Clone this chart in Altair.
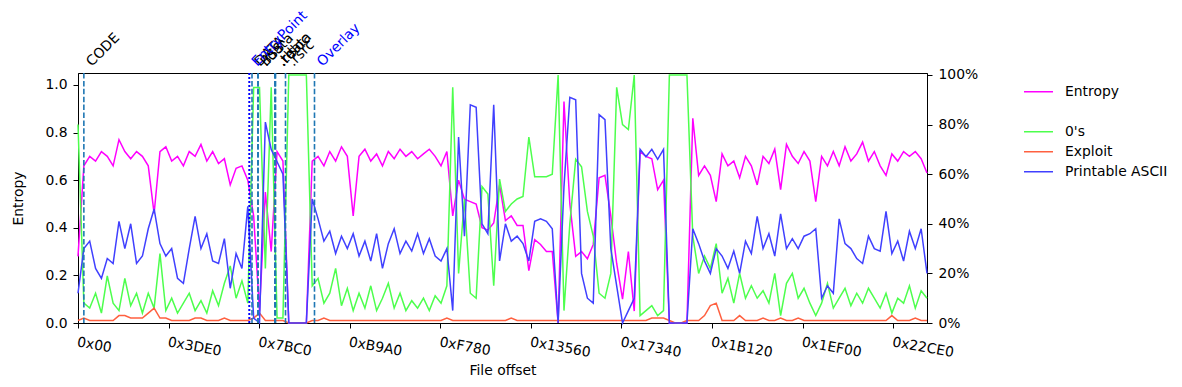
import altair as alt
import pandas as pd

STEP = 1024  # bytes per sample
X_MAX = 148480

ENTROPY = [0.28, 0.66, 0.70, 0.68, 0.72, 0.70, 0.66, 0.77, 0.72, 0.69,
           0.72, 0.70, 0.66, 0.46, 0.72, 0.74, 0.68, 0.70, 0.66, 0.72,
           0.70, 0.75, 0.68, 0.72, 0.67, 0.69, 0.58, 0.65, 0.66, 0.60,
           0.45, 0.05, 0.55, 0.30, 0.72, 0.68, 0.0, 0.0, 0.0, 0.0,
           0.68, 0.70, 0.66, 0.72, 0.68, 0.74, 0.70, 0.45, 0.70, 0.73,
           0.68, 0.71, 0.66, 0.72, 0.69, 0.73, 0.70, 0.72, 0.69, 0.71,
           0.73, 0.70, 0.66, 0.72, 0.45, 0.60, 0.52, 0.51, 0.50, 0.40,
           0.39, 0.42, 0.58, 0.43, 0.45, 0.41, 0.41, 0.22, 0.35, 0.33,
           0.30, 0.30, 0.0, 0.93, 0.50, 0.28, 0.30, 0.27, 0.33, 0.61,
           0.62, 0.45, 0.25, 0.10, 0.30, 0.05, 0.72, 0.70, 0.69, 0.56,
           0.60, 0.0, 0.0, 0.0, 0.0, 0.86, 0.62, 0.66, 0.62, 0.51,
           0.71, 0.66, 0.68, 0.61, 0.70, 0.66, 0.58, 0.70, 0.67, 0.73,
           0.56, 0.75, 0.70, 0.67, 0.72, 0.68, 0.51, 0.70, 0.66, 0.72,
           0.66, 0.74, 0.68, 0.71, 0.76, 0.68, 0.72, 0.66, 0.62, 0.71,
           0.68, 0.72, 0.70, 0.72, 0.69, 0.63]

ZEROS = [0.80, 0.08, 0.06, 0.12, 0.04, 0.19, 0.08, 0.05, 0.18, 0.07,
         0.12, 0.04, 0.12, 0.06, 0.28, 0.05, 0.10, 0.04, 0.08, 0.12,
         0.05, 0.09, 0.04, 0.13, 0.07, 0.16, 0.23, 0.10, 0.17, 0.08,
         0.95, 0.95, 0.22, 0.95, 0.02, 0.02, 1.0, 1.0, 1.0, 1.0,
         0.15, 0.18, 0.08, 0.12, 0.22, 0.07, 0.14, 0.05, 0.12, 0.06,
         0.15, 0.05, 0.10, 0.16, 0.06, 0.12, 0.05, 0.09, 0.06, 0.10,
         0.05, 0.11, 0.08, 0.15, 0.95, 0.20, 0.50, 0.12, 0.10, 0.55,
         0.52, 0.15, 0.58, 0.45, 0.48, 0.50, 0.51, 0.75, 0.59, 0.59,
         0.59, 0.60, 1.0, 0.05, 0.40, 0.66, 0.63, 0.45, 0.35, 0.12,
         0.10, 0.20, 0.95, 0.80, 0.78, 1.0, 0.03, 0.05, 0.07, 0.03,
         0.05, 1.0, 1.0, 1.0, 1.0, 0.35, 0.20, 0.27, 0.22, 0.32,
         0.12, 0.18, 0.08, 0.20, 0.10, 0.15, 0.10, 0.13, 0.08, 0.20,
         0.03, 0.16, 0.20, 0.10, 0.14, 0.08, 0.03, 0.08, 0.16, 0.06,
         0.10, 0.14, 0.07, 0.12, 0.08, 0.14, 0.10, 0.06, 0.12, 0.04,
         0.10, 0.08, 0.15, 0.06, 0.13, 0.10]

EXPLOIT = [0.01, 0.02, 0.01, 0.01, 0.01, 0.01, 0.01, 0.03, 0.03, 0.02,
           0.02, 0.02, 0.04, 0.06, 0.02, 0.02, 0.01, 0.01, 0.01, 0.01,
           0.02, 0.02, 0.01, 0.01, 0.01, 0.02, 0.01, 0.01, 0.01, 0.01,
           0.02, 0.04, 0.01, 0.01, 0.01, 0.01, 0.0, 0.0, 0.0, 0.0,
           0.01, 0.01, 0.02, 0.01, 0.01, 0.01, 0.01, 0.01, 0.01, 0.01,
           0.01, 0.01, 0.01, 0.01, 0.01, 0.01, 0.01, 0.01, 0.01, 0.01,
           0.01, 0.01, 0.01, 0.02, 0.01, 0.01, 0.01, 0.01, 0.01, 0.01,
           0.01, 0.01, 0.01, 0.01, 0.02, 0.01, 0.01, 0.01, 0.01, 0.01,
           0.01, 0.01, 0.01, 0.01, 0.01, 0.01, 0.01, 0.01, 0.01, 0.01,
           0.01, 0.01, 0.01, 0.01, 0.01, 0.01, 0.01, 0.01, 0.02, 0.02,
           0.02, 0.01, 0.0, 0.0, 0.01, 0.01, 0.01, 0.03, 0.07, 0.08,
           0.01, 0.01, 0.01, 0.03, 0.01, 0.01, 0.01, 0.02, 0.01, 0.01,
           0.02, 0.01, 0.01, 0.02, 0.01, 0.01, 0.01, 0.01, 0.01, 0.01,
           0.01, 0.01, 0.01, 0.01, 0.01, 0.01, 0.01, 0.01, 0.01, 0.03,
           0.01, 0.01, 0.01, 0.02, 0.01, 0.01]

ASCII = [0.12, 0.30, 0.33, 0.22, 0.18, 0.26, 0.24, 0.41, 0.30, 0.40,
         0.24, 0.27, 0.38, 0.46, 0.32, 0.27, 0.30, 0.18, 0.16, 0.30,
         0.43, 0.30, 0.36, 0.25, 0.24, 0.34, 0.14, 0.28, 0.22, 0.47,
         0.02, 0.0, 0.81, 0.70, 0.65, 0.60, 0.0, 0.0, 0.0, 0.0,
         0.50, 0.42, 0.33, 0.37, 0.28, 0.35, 0.30, 0.36, 0.27, 0.33,
         0.25, 0.36, 0.22, 0.32, 0.38, 0.28, 0.33, 0.29, 0.36, 0.28,
         0.34, 0.27, 0.25, 0.30, 0.05, 0.75, 0.35, 0.88, 0.87, 0.40,
         0.36, 0.88, 0.25, 0.40, 0.33, 0.35, 0.32, 0.25, 0.41, 0.42,
         0.41, 0.38, 0.0, 0.55, 0.91, 0.90, 0.20, 0.10, 0.08, 0.84,
         0.82, 0.30, 0.15, 0.0, 0.05, 0.10, 0.70, 0.67, 0.70, 0.66,
         0.70, 0.0, 0.0, 0.0, 0.0, 0.38, 0.32, 0.25, 0.20, 0.30,
         0.27, 0.22, 0.29, 0.20, 0.33, 0.28, 0.43, 0.30, 0.36, 0.27,
         0.44, 0.30, 0.34, 0.30, 0.35, 0.36, 0.38, 0.10, 0.15, 0.12,
         0.42, 0.32, 0.30, 0.26, 0.24, 0.35, 0.30, 0.29, 0.45, 0.28,
         0.33, 0.25, 0.37, 0.30, 0.38, 0.20]

X_TICKS = [0, 15840, 31680, 47520, 63360, 79200, 95040, 110880, 126720, 142560]

MARK_NAMES = ["CODE", "EntryPoint", "DATA", "BSS", ".idata", ".tls",
              ".rdata", ".reloc", ".rsrc", "Overlay"]
MARK_OFFSETS = [1024, 29960, 30430, 31480, 31480, 34450, 34450, 34550,
                36290, 41360]
MARK_KIND = ["section", "entry", "section", "section", "section", "section",
             "section", "section", "section", "overlay"]

SERIES = ["Entropy", " ", "0's", "Exploit", "Printable ASCII"]
COLORS = ["#ff00ff", "transparent", "#4dff4d", "#ff6040", "#4040ff"]

rows = []
for name, vals in [("Entropy", ENTROPY), ("0's", ZEROS),
                   ("Exploit", EXPLOIT), ("Printable ASCII", ASCII)]:
    for i, v in enumerate(vals):
        rows.append({"offset": i * STEP, "value": v, "series": name})
df = pd.DataFrame(rows)

marks = pd.DataFrame({"name": MARK_NAMES, "offset": MARK_OFFSETS,
                      "kind": MARK_KIND})

FONT = "DejaVu Sans"
FS = 13.9

x_enc = alt.X(
    "offset:Q",
    scale=alt.Scale(domain=[0, X_MAX], nice=False, zero=False),
    axis=alt.Axis(values=X_TICKS,
                  labelExpr="'0x' + format(datum.value, '02X')",
                  labelAngle=10, labelAlign="left", labelBaseline="top",
                  labelPadding=7, labelFlush=False, labelOverlap=False,
                  title="File offset", titleY=40, titleBaseline="top"),
)

color_enc = alt.Color(
    "series:N",
    scale=alt.Scale(domain=SERIES, range=COLORS),
    legend=alt.Legend(title=None, orient="none", legendX=945, legendY=9,
                      symbolType="stroke", symbolSize=841,
                      symbolStrokeWidth=1.5, labelFontSize=FS,
                      labelFont=FONT, labelColor="black", labelOffset=11,
                      clipHeight=19.7, rowPadding=0, padding=0),
)

base = alt.Chart(df)

ent = base.transform_filter(alt.datum.series == "Entropy").mark_line(
    strokeWidth=1.5).encode(
    x=x_enc,
    y=alt.Y("value:Q", scale=alt.Scale(domain=[0, 1.05], nice=False),
            axis=alt.Axis(orient="left", values=[0, 0.2, 0.4, 0.6, 0.8, 1.0],
                          format=".1f", title="Entropy", titlePadding=19,
                          labelPadding=6)),
    color=color_enc,
)

pct_y = alt.Y("value:Q", scale=alt.Scale(domain=[0, 1.008], nice=False),
              axis=alt.Axis(orient="right", values=[0, 0.2, 0.4, 0.6, 0.8, 1.0],
                            format=".0%", title=None, labelPadding=6))


def pct_layer(name):
    return base.transform_filter(alt.datum.series == name).mark_line(
        strokeWidth=1.5).encode(x=x_enc, y=pct_y, color=color_enc)


pct = alt.layer(pct_layer("0's"), pct_layer("Exploit"),
                pct_layer("Printable ASCII"))

# text rotated -45 deg: dx/dy act in the rotated frame; (5.6, 5.6) moves
# the anchor about 8px straight to the right on screen
TDX, TDY = 5.6, 5.6

mbase = alt.Chart(marks)
rules_dashed = mbase.transform_filter(alt.datum.kind != "entry").mark_rule(
    color="#1f77b4", strokeWidth=1.6, strokeDash=[5.5, 2.4]).encode(
    x=x_enc, y=alt.value(0), y2=alt.value(250))
rule_entry = mbase.transform_filter(alt.datum.kind == "entry").mark_rule(
    color="#0000ff", strokeWidth=2, strokeDash=[2, 2]).encode(
    x=x_enc, y=alt.value(0), y2=alt.value(250))
text_black = mbase.transform_filter(alt.datum.kind == "section").mark_text(
    angle=315, align="left", baseline="alphabetic", fontSize=FS, font=FONT,
    color="black", dx=TDX, dy=TDY).encode(x=x_enc, y=alt.value(-6),
                                          text="name:N")
text_blue = mbase.transform_filter(alt.datum.kind != "section").mark_text(
    angle=315, align="left", baseline="alphabetic", fontSize=FS, font=FONT,
    color="#0000ff", dx=TDX, dy=TDY).encode(x=x_enc, y=alt.value(-6),
                                            text="name:N")

chart = alt.layer(ent, pct, rules_dashed, rule_entry, text_black, text_blue
                  ).resolve_scale(y="independent").properties(
    width=849, height=250,
    autosize=alt.AutoSizeParams(type="none"),
    padding={"left": 70, "top": 65, "right": 247, "bottom": 56},
).configure(font=FONT).configure_view(
    stroke="black", strokeWidth=1
).configure_axis(
    domainColor="black", tickColor="black", labelColor="black",
    titleColor="black", labelFontSize=FS, titleFontSize=FS,
    titleFontWeight="normal", labelFont=FONT, titleFont=FONT,
    tickSize=5, grid=False, domainWidth=1, tickWidth=1,
)

chart.save("out.html", embed_options={"renderer": "svg", "actions": False})
